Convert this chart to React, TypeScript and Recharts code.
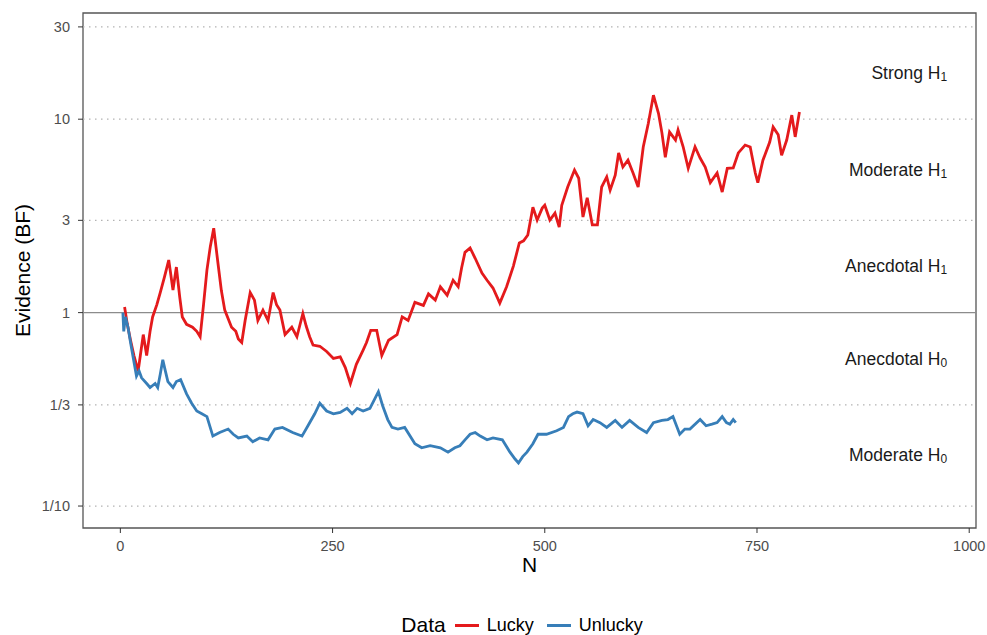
import React from 'react';
import { LineChart, Line, XAxis, YAxis, ReferenceLine, ReferenceArea, ReferenceDot, Legend, Label } from 'recharts';

const FONT = '"Liberation Sans", Arial, Helvetica, sans-serif';

// Lucky: sample size N and Bayes factor
const luckyN = [5, 8, 12, 16, 21, 24, 27, 31, 35, 38, 43, 47, 52, 57, 62, 66, 70, 73, 78, 85, 90, 94, 98, 102, 106, 110, 115, 119, 123, 131, 136, 139, 143, 147, 153, 158, 162, 168, 174, 180, 184, 188, 194, 202, 208, 215, 219, 223, 227, 235, 243, 251, 259, 265, 271, 278, 286, 290, 295, 302, 308, 316, 326, 332, 339, 347, 357, 363, 371, 377, 385, 392, 398, 402, 406, 412, 418, 426, 432, 439, 444, 447, 455, 463, 470, 475, 480, 486, 491, 497, 500, 506, 512, 517, 520, 527, 535, 540, 545, 550, 556, 562, 567, 573, 577, 583, 587, 592, 598, 604, 610, 616, 622, 628, 634, 638, 642, 647, 654, 657, 663, 669, 677, 683, 689, 695, 703, 709, 715, 722, 728, 736, 742, 748, 751, 757, 765, 769, 775, 779, 785, 791, 795, 800];
const luckyBF = [1.07, 0.88, 0.72, 0.6, 0.5, 0.62, 0.77, 0.6, 0.8, 0.95, 1.1, 1.27, 1.53, 1.87, 1.31, 1.72, 1.2, 0.95, 0.87, 0.84, 0.8, 0.75, 1.1, 1.66, 2.2, 2.73, 1.8, 1.3, 1.03, 0.84, 0.8, 0.73, 0.7, 0.91, 1.27, 1.16, 0.91, 1.03, 0.91, 1.27, 1.1, 1.03, 0.77, 0.84, 0.75, 0.99, 0.85, 0.75, 0.68, 0.67, 0.63, 0.58, 0.59, 0.52, 0.43, 0.54, 0.64, 0.7, 0.81, 0.81, 0.6, 0.72, 0.77, 0.95, 0.91, 1.13, 1.09, 1.25, 1.16, 1.36, 1.23, 1.47, 1.36, 1.7, 2.05, 2.16, 1.91, 1.6, 1.47, 1.34, 1.2, 1.12, 1.36, 1.74, 2.29, 2.35, 2.52, 3.51, 3.01, 3.47, 3.59, 3.01, 3.27, 2.77, 3.59, 4.46, 5.46, 4.95, 3.12, 3.92, 2.84, 2.84, 4.46, 5.03, 4.3, 5.14, 6.69, 5.66, 6.14, 5.27, 4.46, 7.18, 9.53, 13.3, 10.7, 8.5, 6.36, 8.58, 7.8, 8.8, 7.2, 5.57, 7.2, 6.3, 5.66, 4.7, 5.27, 4.2, 5.57, 5.6, 6.69, 7.35, 7.18, 5.27, 4.7, 6.14, 7.62, 9.1, 8.3, 6.5, 7.8, 10.5, 8.1, 10.9];

// Unlucky
const unluckyN = [3, 4, 6, 9, 12, 15, 19, 22, 25, 31, 35, 41, 44, 47, 50, 53, 56, 62, 66, 71, 78, 84, 90, 96, 102, 109, 117, 127, 133, 139, 149, 156, 164, 174, 182, 191, 203, 214, 221, 229, 235, 243, 251, 259, 267, 273, 279, 286, 294, 300, 304, 309, 315, 320, 327, 335, 347, 355, 365, 377, 386, 394, 400, 406, 412, 418, 424, 432, 439, 450, 459, 465, 469, 474, 479, 486, 492, 502, 514, 522, 528, 533, 538, 545, 551, 557, 565, 573, 583, 591, 600, 610, 620, 628, 638, 645, 651, 659, 665, 671, 683, 690, 697, 703, 709, 714, 718, 722, 725];
const unluckyBF = [1.0, 0.8, 0.95, 0.84, 0.7, 0.59, 0.47, 0.5, 0.46, 0.43, 0.41, 0.43, 0.41, 0.48, 0.57, 0.5, 0.44, 0.41, 0.44, 0.45, 0.38, 0.34, 0.31, 0.3, 0.29, 0.23, 0.24, 0.25, 0.235, 0.225, 0.23, 0.215, 0.225, 0.22, 0.25, 0.255, 0.24, 0.23, 0.26, 0.3, 0.34, 0.31, 0.3, 0.305, 0.32, 0.3, 0.32, 0.31, 0.32, 0.36, 0.39, 0.33, 0.28, 0.255, 0.25, 0.255, 0.21, 0.2, 0.205, 0.2, 0.19, 0.2, 0.205, 0.22, 0.235, 0.24, 0.23, 0.22, 0.225, 0.22, 0.19, 0.175, 0.167, 0.18, 0.19, 0.21, 0.235, 0.235, 0.245, 0.255, 0.29, 0.3, 0.306, 0.3, 0.26, 0.28, 0.27, 0.255, 0.277, 0.255, 0.277, 0.255, 0.24, 0.27, 0.277, 0.28, 0.29, 0.235, 0.25, 0.25, 0.28, 0.26, 0.265, 0.27, 0.29, 0.27, 0.265, 0.28, 0.27];

const xTicks = [0, 250, 500, 750, 1000];
const yTicks = [0.1, 1 / 3, 1, 3, 10, 30];
const yTickLabels = ['1/10', '1/3', '1', '3', '10', '30'];

// evidence bands: label, subscript, geometric middle of the band
const bandNames = ['Strong H', 'Moderate H', 'Anecdotal H', 'Anecdotal H', 'Moderate H'];
const bandSubs = ['1', '1', '1', '0', '0'];
const bandMids = [Math.sqrt(300), Math.sqrt(30), Math.sqrt(3), Math.sqrt(1 / 3), Math.sqrt(1 / 30)];

const seriesNames = ['Lucky', 'Unlucky'];
const seriesColors = ['#e41a1c', '#377eb8'];

const luckyData = luckyN.map((n, i) => ({ n, bf: luckyBF[i] }));
const unluckyData = unluckyN.map((n, i) => ({ n, bf: unluckyBF[i] }));

const X_DOMAIN: [number, number] = [-44, 1008];
const Y_DOMAIN: [number, number] = [0.077, 35.4];

const BandLabel = (props: any) => {
  const { viewBox, text, sub } = props;
  if (!viewBox) return null;
  return (
    <text x={viewBox.x} y={viewBox.y} textAnchor="end" dominantBaseline="central" fontFamily={FONT} fontSize={17.5} fill="#1a1a1a">
      <tspan>{text}</tspan>
      <tspan fontSize={12} dy={4}>{sub}</tspan>
    </text>
  );
};

const YTitle = (props: any) => {
  const { viewBox } = props;
  const cy = viewBox.y + viewBox.height / 2;
  return (
    <text x={22} y={cy} transform={`rotate(-90, 22, ${cy})`} textAnchor="middle" dominantBaseline="central" fontFamily={FONT} fontSize={21} fill="#000">
      Evidence (BF)
    </text>
  );
};

const LegendBox = () => (
  <div style={{ display: 'flex', justifyContent: 'center', alignItems: 'center', height: 20, fontFamily: FONT }}>
    <span style={{ fontSize: 21, marginRight: 9 }}>Data</span>
    {seriesNames.map((name, i) => (
      <span key={name} style={{ display: 'flex', alignItems: 'center', marginRight: 13 }}>
        <span style={{ display: 'inline-block', width: 24, height: 3, background: seriesColors[i], marginRight: 8 }} />
        <span style={{ fontSize: 18 }}>{name}</span>
      </span>
    ))}
  </div>
);

export default function App() {
  return (
    <div style={{ position: 'absolute', left: 0, top: 0, width: 987, height: 635, background: '#fff' }}>
      <LineChart width={987} height={635} margin={{ top: 13, right: 11, left: 0, bottom: 0 }}>
        <XAxis
          dataKey="n"
          type="number"
          domain={X_DOMAIN}
          allowDataOverflow
          ticks={xTicks}
          height={87}
          tickSize={5}
          tickMargin={8}
          axisLine={false}
          tickLine={{ stroke: '#333' }}
          tick={{ fill: '#4d4d4d', fontSize: 14.5, fontFamily: FONT }}
        >
          <Label value="N" position="insideTop" offset={29} style={{ fontSize: 21, fill: '#000', fontFamily: FONT }} />
        </XAxis>
        <YAxis
          type="number"
          scale="log"
          domain={Y_DOMAIN}
          allowDataOverflow
          ticks={yTicks}
          width={83}
          tickSize={5}
          tickMargin={8}
          axisLine={false}
          tickLine={{ stroke: '#333' }}
          tick={{ fill: '#4d4d4d', fontSize: 14.5, fontFamily: FONT }}
          tickFormatter={(v: number) => {
            const i = yTicks.findIndex((t) => Math.abs(t - v) < 1e-6);
            return i >= 0 ? yTickLabels[i] : String(v);
          }}
        >
          <Label content={<YTitle />} />
        </YAxis>
        {yTicks.map((t) =>
          t === 1 ? null : (
            <ReferenceLine key={t} y={t} stroke="#b3b3b3" strokeWidth={1.2} strokeDasharray="1.5 4.5" />
          )
        )}
        <ReferenceLine y={1} stroke="#8c8c8c" strokeWidth={1.4} />
        <ReferenceArea x1={X_DOMAIN[0]} x2={X_DOMAIN[1]} y1={Y_DOMAIN[0]} y2={Y_DOMAIN[1]} fill="none" stroke="#555" strokeWidth={1.3} />
        {bandNames.map((name, i) => (
          <ReferenceDot key={i} x={974} y={bandMids[i]} r={0} fill="none" stroke="none" label={<BandLabel text={name} sub={bandSubs[i]} />} />
        ))}
        <Line data={luckyData} dataKey="bf" name="Lucky" stroke={seriesColors[0]} strokeWidth={2.8} dot={false} isAnimationActive={false} />
        <Line data={unluckyData} dataKey="bf" name="Unlucky" stroke={seriesColors[1]} strokeWidth={2.8} dot={false} isAnimationActive={false} />
        <Legend verticalAlign="bottom" height={20} wrapperStyle={{ left: 83, width: 891 }} content={() => <LegendBox />} />
      </LineChart>
    </div>
  );
}
